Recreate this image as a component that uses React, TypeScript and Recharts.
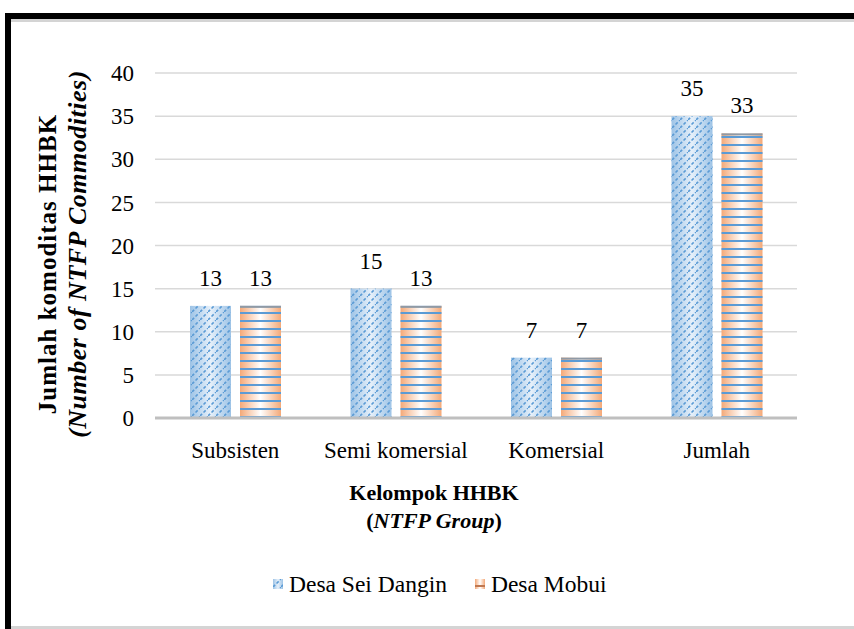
/**
 * App.tsx
 * Grouped bar chart: jumlah komoditas HHBK per kelompok, two villages.
 */
import { Bar, BarChart, CartesianGrid, LabelList, XAxis, YAxis } from 'recharts'

const categories = ['Subsisten', 'Semi komersial', 'Komersial', 'Jumlah']
const seiDangin = [13, 15, 7, 35]
const mobui = [13, 13, 7, 33]
const yTicks = [0, 5, 10, 15, 20, 25, 30, 35, 40]
const seriesNames = ['Desa Sei Dangin', 'Desa Mobui']

const data = categories.map((name, i) => ({ name, sei: seiDangin[i], mobui: mobui[i] }))

const FONT = "'Liberation Serif', 'DejaVu Serif', 'Noto Serif', serif"

/**
 * PatternDefs
 * Gradients and fill patterns for the bars (ids are prefixed to allow reuse).
 */
function PatternDefs({ prefix }: { prefix: string }) {
  return (
    <defs>
      <linearGradient id={`${prefix}blueGrad`} x1="0" y1="0" x2="1" y2="0">
        <stop offset="0%" stopColor="#9dc3e6" />
        <stop offset="50%" stopColor="#e6f0fa" />
        <stop offset="100%" stopColor="#9dc3e6" />
      </linearGradient>
      <pattern id={`${prefix}bluePat`} patternUnits="userSpaceOnUse" width="8" height="8">
        <line x1="0" y1="8" x2="8" y2="0" stroke="#5b9bd5" strokeWidth="1.6" strokeDasharray="3 2" />
      </pattern>
      <linearGradient id={`${prefix}orGrad`} x1="0" y1="0" x2="1" y2="0">
        <stop offset="0%" stopColor="#f4a978" />
        <stop offset="50%" stopColor="#ffffff" />
        <stop offset="100%" stopColor="#f4a978" />
      </linearGradient>
      <pattern id={`${prefix}orPat`} patternUnits="userSpaceOnUse" width="8" height="8">
        <rect x="0" y="0" width="8" height="2" fill="#5b9bd5" />
      </pattern>
    </defs>
  )
}

function BlueShape(props: any) {
  const { x, y, width, height } = props
  if (!height || height <= 0) return null
  return (
    <g>
      <rect x={x} y={y} width={width} height={height} fill="url(#cblueGrad)" />
      <rect x={x} y={y} width={width} height={height} fill="url(#cbluePat)" />
    </g>
  )
}

function OrangeShape(props: any) {
  const { x, y, width, height } = props
  if (!height || height <= 0) return null
  return (
    <g>
      <rect x={x} y={y} width={width} height={height} fill="url(#corGrad)" />
      <rect x={x} y={y} width={width} height={height} fill="url(#corPat)" />
      <rect x={x} y={y} width={width} height={2} fill="#8f9aa6" />
    </g>
  )
}

const labelStyle = { fontFamily: FONT, fontSize: 23, fill: '#000' }

export default function App() {
  return (
    <div
      style={{
        position: 'absolute',
        left: 0,
        top: 0,
        width: 854,
        height: 629,
        background: '#fff',
        fontFamily: FONT,
        overflow: 'hidden',
      }}
    >
      {/* frame */}
      <div style={{ position: 'absolute', left: 5, top: 13, width: 849, height: 6, background: '#000' }} />
      <div style={{ position: 'absolute', left: 11, top: 19, width: 843, height: 3, background: '#d4d4d4' }} />
      <div style={{ position: 'absolute', left: 5, top: 13, width: 6, height: 616, background: '#000' }} />
      <div style={{ position: 'absolute', left: 11, top: 626, width: 843, height: 3, background: '#d4d4d4' }} />

      <div style={{ position: 'absolute', left: 0, top: 0 }}>
        <BarChart
          width={854}
          height={629}
          data={data}
          margin={{ top: 73, right: 57, bottom: 161, left: 0 }}
          barSize={41}
          barGap={9}
          style={{ fontFamily: FONT }}
        >
          <PatternDefs prefix="c" />
          <CartesianGrid vertical={false} stroke="#d9d9d9" strokeWidth={1.5} />
          <XAxis
            dataKey="name"
            height={50}
            tickLine={false}
            tickMargin={18}
            axisLine={{ stroke: '#bfbfbf', strokeWidth: 3 }}
            tick={{ fontFamily: FONT, fontSize: 23, fill: '#000' }}
          />
          <YAxis
            width={155}
            domain={[0, 40]}
            ticks={yTicks}
            interval={0}
            tickLine={false}
            axisLine={false}
            tickMargin={15}
            tick={{ fontFamily: FONT, fontSize: 23, fill: '#000' }}
          />
          <Bar dataKey="sei" name={seriesNames[0]} shape={BlueShape} isAnimationActive={false}>
            <LabelList dataKey="sei" position="top" offset={20} style={labelStyle} />
          </Bar>
          <Bar dataKey="mobui" name={seriesNames[1]} shape={OrangeShape} isAnimationActive={false}>
            <LabelList dataKey="mobui" position="top" offset={20} style={labelStyle} />
          </Bar>
        </BarChart>
      </div>

      {/* y-axis title */}
      <div
        style={{
          position: 'absolute',
          left: 48 - 200,
          top: 264 - 15,
          width: 400,
          height: 30,
          lineHeight: '30px',
          textAlign: 'center',
          transform: 'rotate(-90deg)',
          fontWeight: 'bold',
          fontSize: 25,
          letterSpacing: 1,
          whiteSpace: 'nowrap',
        }}
      >
        Jumlah komoditas HHBK
      </div>
      <div
        style={{
          position: 'absolute',
          left: 78 - 200,
          top: 254 - 15,
          width: 400,
          height: 30,
          lineHeight: '30px',
          textAlign: 'center',
          transform: 'rotate(-90deg)',
          fontWeight: 'bold',
          fontStyle: 'italic',
          fontSize: 26,
          letterSpacing: 0.5,
          whiteSpace: 'nowrap',
        }}
      >
        (Number of NTFP Commodities)
      </div>

      {/* x-axis title */}
      <div
        style={{
          position: 'absolute',
          left: 234,
          top: 479,
          width: 400,
          textAlign: 'center',
          fontWeight: 'bold',
          fontSize: 22,
          lineHeight: '28px',
        }}
      >
        <div>Kelompok HHBK</div>
        <div>
          (<i>NTFP Group</i>)
        </div>
      </div>

      {/* legend */}
      <div
        style={{
          position: 'absolute',
          left: 273,
          top: 570,
          display: 'flex',
          alignItems: 'center',
          fontSize: 23.5,
          lineHeight: '28px',
          whiteSpace: 'nowrap',
        }}
      >
        {seriesNames.map((name, i) => (
          <div key={name} style={{ display: 'flex', alignItems: 'center', marginRight: i === 0 ? 28 : 0 }}>
            <svg width={10} height={10} style={{ marginRight: 6 }}>
              <PatternDefs prefix={`l${i}`} />
              <rect x={0} y={0} width={10} height={10} fill={i === 0 ? `url(#l${i}blueGrad)` : `url(#l${i}orGrad)`} />
              {i === 0 ? (
                <rect x={0} y={0} width={10} height={10} fill={`url(#l${i}bluePat)`} />
              ) : (
                <rect x={0} y={6} width={10} height={2} fill="#c07850" />
              )}
            </svg>
            <span>{name}</span>
          </div>
        ))}
      </div>
    </div>
  )
}
